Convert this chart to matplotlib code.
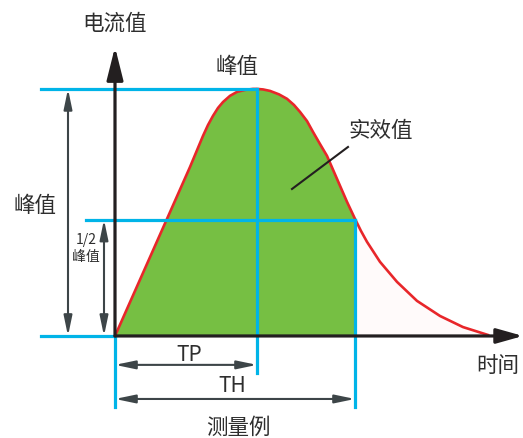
import matplotlib.pyplot as plt
from matplotlib.patches import FancyArrowPatch
import numpy as np

plt.rcParams['font.family'] = ['Noto Sans CJK SC', 'DejaVu Sans']

# waveform (time in arbitrary units, current as fraction of peak)
wave_t = [0.0, 5.2, 7.5, 8.8, 9.3, 9.8, 10.3, 10.8, 11.5, 12.2, 13.0, 13.8, 14.2,
          14.8, 15.5, 16.4, 17.2, 17.9, 18.5, 19.2, 19.8, 20.5, 21.2, 22.2, 23.2,
          24.0, 24.6, 25.2, 26.5, 28.2, 30.2, 32.5, 34.8, 37.3]
wave_i = [0.0, 0.474, 0.684, 0.810, 0.854, 0.891, 0.923, 0.947, 0.972, 0.988, 0.996, 1.0, 1.0,
          0.998, 0.992, 0.978, 0.960, 0.935, 0.907, 0.870, 0.826, 0.777, 0.729, 0.636, 0.543,
          0.474, 0.425, 0.381, 0.300, 0.219, 0.142, 0.081, 0.036, 0.004]
tp = 14.2
th = 24.0
half = 0.471

blue = '#00b4e8'
grey = '#3d4548'
txt = '#2e2e2e'

fig = plt.figure(figsize=(5.23, 4.39), dpi=100)
ax = fig.add_axes([0, 0, 1, 1])
ax.set_xlim(-11.5, 40.8)
ax.set_ylim(-0.413, 1.364)
ax.axis('off')

t = np.array(wave_t)
i = np.array(wave_i)
ax.fill_between(t, i, where=t <= th, color='#76bf43', lw=0, zorder=1)
ax.fill_between(t, i, where=t >= th, color='#fffafa', lw=0, zorder=1)
ax.plot(t, i, color='#e8262a', lw=1.9, zorder=2, solid_joinstyle='round')

# blue guide lines
ax.plot([-7.4, tp], [1, 1], color=blue, lw=2.3, zorder=3)
ax.plot([tp, tp], [1, -0.15], color=blue, lw=2.3, zorder=3)
ax.plot([-2.9, th], [half, half], color=blue, lw=2.3, zorder=3)
ax.plot([th, th], [half, -0.287], color=blue, lw=2.3, zorder=3)
ax.plot([-7.4, 0], [0, 0], color=blue, lw=2.3, zorder=3)
ax.plot([0, 0], [0, -0.287], color=blue, lw=2.3, zorder=3)


def arrow(p0, p1, style, color, lw, hl, hw, z=4):
    a = FancyArrowPatch(p0, p1, arrowstyle='%s,head_length=%s,head_width=%s' % (style, hl, hw),
                        mutation_scale=10, color=color, lw=lw, shrinkA=0, shrinkB=0, zorder=z)
    ax.add_patch(a)


# axes
arrow((0, 0), (0, 1.17), '-|>', '#231f20', 2.3, 2.0, 0.5, 5)
arrow((0, 0), (40.8, 0), '-|>', '#231f20', 2.3, 1.6, 0.45, 5)

# dimension arrows
arrow((-4.7, 0), (-4.7, 1), '<|-|>', grey, 1.5, 1.2, 0.25)
arrow((-1.1, 0), (-1.1, half), '<|-|>', grey, 1.5, 1.2, 0.25)
arrow((0, -0.117), (tp, -0.117), '<|-|>', grey, 1.5, 1.2, 0.25)
arrow((0, -0.255), (th, -0.255), '<|-|>', grey, 1.5, 1.2, 0.25)

# pointer to 实效值
ax.plot([17.7, 23.3], [0.595, 0.765], color='#231f20', lw=1.5, zorder=4)

kw = dict(ha='center', va='center', color=txt, fontweight='medium')
ax.text(0, 1.267, '电流值', fontsize=15.5, **kw)
ax.text(12.2, 1.093, '峰值', fontsize=15.5, **kw)
ax.text(-8.0, 0.53, '峰值', fontsize=15.5, **kw)
ax.text(-2.9, 0.393, '1/2', fontsize=10, **kw)
ax.text(-2.9, 0.324, '峰值', fontsize=10, **kw)
ax.text(26.6, 0.834, '实效值', fontsize=15.5, **kw)
ax.text(7.4, -0.073, 'TP', fontsize=15, **kw)
ax.text(11.7, -0.198, 'TH', fontsize=15, **kw)
ax.text(12.3, -0.368, '测量例', fontsize=15.5, **kw)
ax.text(38.3, -0.117, '时间', fontsize=15.5, **kw)

fig.savefig('out.png', dpi=100)
